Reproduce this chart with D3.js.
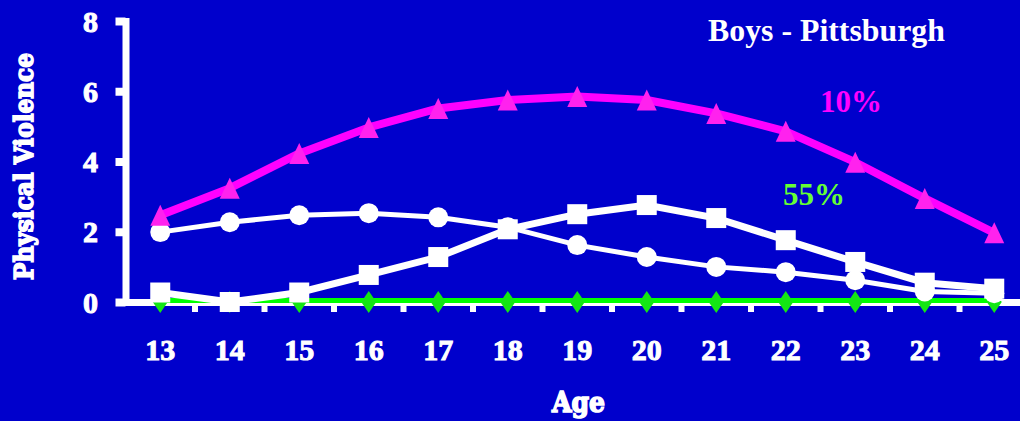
<!DOCTYPE html>
<html><head><meta charset="utf-8">
<script src="https://cdn.jsdelivr.net/npm/d3@7/dist/d3.min.js"></script>
<style>html,body{margin:0;padding:0;background:#0000CC;overflow:hidden}svg{display:block}</style>
</head><body><svg id="c" width="1020" height="421"></svg>
<script>
const ages = [13,14,15,16,17,18,19,20,21,22,23,24,25];
const tenPct     = [2.47,3.24,4.23,4.97,5.51,5.75,5.85,5.75,5.37,4.86,3.98,2.95,1.97];
const circleSer  = [1.99,2.27,2.47,2.53,2.41,2.13,1.62,1.28,1.0,0.85,0.62,0.3,0.25];
const squareSer  = [0.27,0.0,0.27,0.77,1.28,2.07,2.5,2.76,2.39,1.76,1.14,0.55,0.38];
const fiftyFive  = [0,0,0,0,0,0,0,0,0,0,0,0,0];
const yTicks = [0,2,4,6,8];
const title = "Boys - Pittsburgh";
const yTitle = "Physical Violence";
const xTitle = "Age";
const label10 = "10%";
const label55 = "55%";

const svg = d3.select("#c");
svg.append("rect").attr("width",1020).attr("height",421).attr("fill","#0000CC");

const x = d3.scaleBand().domain(ages).range([125.5, 125.5 + 69.5*ages.length]).padding(0);
const cx = a => x(a) + x.bandwidth()/2;
const y = d3.scaleLinear().domain([0,8]).range([302,21]);

const serif = "Liberation Serif, Times New Roman, serif";
const slab = "DejaVu Serif, serif";

// X axis
const xAxis = svg.append("g").attr("transform",`translate(0,${y(0)})`)
  .call(d3.axisBottom(x).tickSize(0).tickSizeOuter(0));
xAxis.select(".domain").attr("stroke","#fff").attr("stroke-width",7);
xAxis.selectAll("text").attr("y",58).attr("dy",0).attr("fill","#fff")
  .attr("stroke","#fff").attr("stroke-width",1)
  .attr("font-family",serif).attr("font-weight","bold").attr("font-size",30);
// tick marks between categories
svg.append("g").selectAll("rect").data(ages.slice(1)).join("rect")
  .attr("x", d => x(d) - 3).attr("y", y(0) + 4).attr("width", 6).attr("height", 6).attr("fill","#fff");

// Y axis
const yAxis = svg.append("g").attr("transform","translate(125.5,0)")
  .call(d3.axisLeft(y).tickValues(yTicks).tickSize(10).tickSizeOuter(0).tickPadding(17.5));
yAxis.select(".domain").attr("stroke","#fff").attr("stroke-width",7).attr("stroke-linecap","square");
yAxis.selectAll(".tick line").attr("stroke","#fff").attr("stroke-width",8);
yAxis.selectAll("text").attr("fill","#fff").attr("dy","0.34em")
  .attr("stroke","#fff").attr("stroke-width",1)
  .attr("font-family",serif).attr("font-weight","bold").attr("font-size",30);

// Series
const line = vals => d3.line().x((d,i)=>cx(ages[i])).y(d=>y(d))(vals);

// green 55%
svg.append("path").attr("d", line(fiftyFive)).attr("fill","none").attr("stroke","#00FF00").attr("stroke-width",5)
  .attr("transform","translate(0,-1.5)");
svg.append("g").selectAll("path").data(fiftyFive).join("path")
  .attr("d", (d,i)=>{const X=cx(ages[i]),Y=y(d);return `M${X},${Y-11}L${X+7.5},${Y}L${X},${Y+11}L${X-7.5},${Y}Z`;})
  .attr("fill","#14E614");

// circles series
svg.append("path").attr("d", line(circleSer)).attr("fill","none").attr("stroke","#fff").attr("stroke-width",5);
svg.append("g").selectAll("circle").data(circleSer).join("circle")
  .attr("cx",(d,i)=>cx(ages[i])).attr("cy",d=>y(d)).attr("r",10).attr("fill","#fff");

// squares series
svg.append("path").attr("d", line(squareSer)).attr("fill","none").attr("stroke","#fff").attr("stroke-width",7);
svg.append("g").selectAll("rect").data(squareSer).join("rect")
  .attr("x",(d,i)=>cx(ages[i])-10).attr("y",d=>y(d)-10).attr("width",20).attr("height",20).attr("fill","#fff");

// magenta 10%
svg.append("path").attr("d", line(tenPct)).attr("fill","none").attr("stroke","#FF00FF").attr("stroke-width",8)
  .attr("stroke-linejoin","round");
svg.append("g").selectAll("path").data(tenPct).join("path")
  .attr("d",(d,i)=>{const X=cx(ages[i]),Y=y(d);return `M${X},${Y-10.5}L${X+10},${Y+10.5}L${X-10},${Y+10.5}Z`;})
  .attr("fill","#FF22EE");

// Texts
svg.append("text").attr("x",708).attr("y",41).attr("fill","#fff").attr("font-family",serif)
  .attr("font-weight","bold").attr("font-size",31).attr("textLength",237).attr("lengthAdjust","spacingAndGlyphs").text(title);
svg.append("text").attr("x",820).attr("y",112).attr("fill","#FF00FF").attr("font-family",serif)
  .attr("font-weight","bold").attr("font-size",31).attr("textLength",62).attr("lengthAdjust","spacingAndGlyphs").text(label10);
svg.append("text").attr("x",783).attr("y",205).attr("fill","#66FF33").attr("font-family",serif)
  .attr("font-weight","bold").attr("font-size",31).attr("textLength",62).attr("lengthAdjust","spacingAndGlyphs").text(label55);

svg.append("text").attr("transform","translate(33,280) rotate(-90)").attr("x",0).attr("y",0)
  .attr("fill","#fff").attr("stroke","#fff").attr("stroke-width",1.6)
  .attr("font-family",slab).attr("font-weight","bold").attr("font-size",26)
  .attr("textLength",227).attr("lengthAdjust","spacingAndGlyphs").text(yTitle);
svg.append("text").attr("x",552).attr("y",412).attr("fill","#fff").attr("stroke","#fff").attr("stroke-width",1.6)
  .attr("font-family",slab)
  .attr("font-weight","bold").attr("font-size",28).attr("textLength",53).attr("lengthAdjust","spacingAndGlyphs").text(xTitle);
</script></body></html>
